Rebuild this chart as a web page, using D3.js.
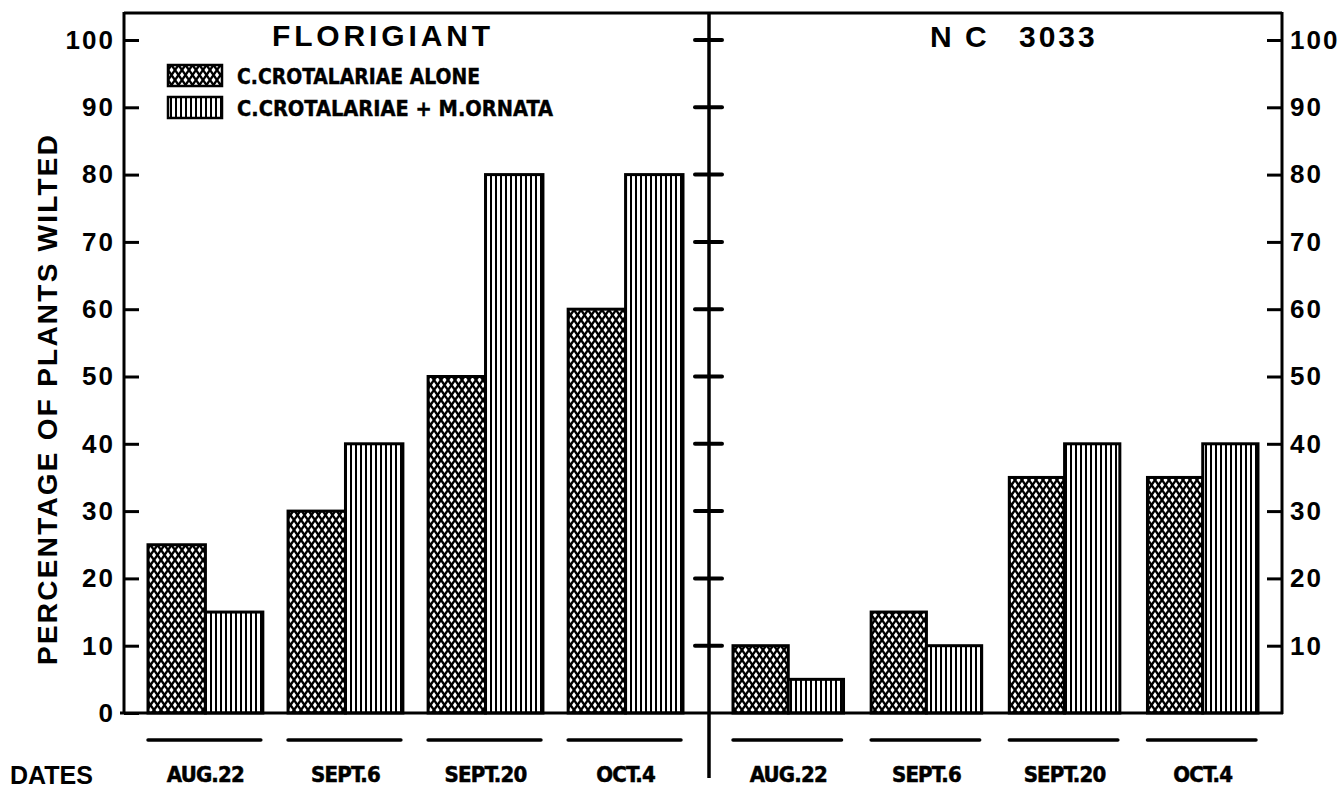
<!DOCTYPE html>
<html>
<head>
<meta charset="utf-8">
<script src="https://cdn.jsdelivr.net/npm/d3@7"></script>
<style>
  body { margin: 0; background: #fff; }
  svg { display: block; }
  .tick text { font-family: "Liberation Sans", Arial, sans-serif; font-weight: bold; font-size: 26px; letter-spacing: 2px; fill: #000; }
  .narrow { font-family: "Liberation Sans Narrow", "DejaVu Sans Condensed", sans-serif; font-weight: bold; }
  .title { font-family: "Liberation Sans", Arial, sans-serif; font-weight: bold; font-size: 30px; }
</style>
</head>
<body>
<svg id="chart"></svg>
<script>
// data
const dates = ["AUG.22", "SEPT.6", "SEPT.20", "OCT.4"];
const series = ["alone", "ornata"];
const seriesLabels = ["C.CROTALARIAE ALONE", "C.CROTALARIAE + M.ORNATA"];
const florigiantAlone = [25, 30, 50, 60];
const florigiantOrnata = [15, 40, 80, 80];
const nc3033Alone = [10, 15, 35, 35];
const nc3033Ornata = [5, 10, 40, 40];
const leftTicks = [0, 10, 20, 30, 40, 50, 60, 70, 80, 90, 100];
const rightTicks = [10, 20, 30, 40, 50, 60, 70, 80, 90, 100];

const width = 1339, height = 790;
const svg = d3.select("#chart").attr("width", width).attr("height", height);

const defs = svg.append("defs");
// criss-cross hatching
const xh = defs.append("pattern").attr("id", "xhatch")
  .attr("patternUnits", "userSpaceOnUse").attr("width", 7).attr("height", 10);
xh.append("rect").attr("width", 7).attr("height", 10).attr("fill", "#fff");
xh.append("path").attr("d", "M0,0L7,10M7,0L0,10").attr("stroke", "#000").attr("stroke-width", 2.4);
// vertical stripes
const vs = defs.append("pattern").attr("id", "vstripe")
  .attr("patternUnits", "userSpaceOnUse").attr("width", 5).attr("height", 10);
vs.append("rect").attr("width", 5).attr("height", 10).attr("fill", "#fff");
vs.append("rect").attr("x", 0).attr("width", 2).attr("height", 10).attr("fill", "#000");

const fills = { alone: "url(#xhatch)", ornata: "url(#vstripe)" };

const y = d3.scaleLinear().domain([0, 100]).range([713, 40]);

const xLeft = d3.scaleBand().domain(dates).range([148, 683]).paddingInner(0.18).paddingOuter(0);
const xRight = d3.scaleBand().domain(dates).range([733, 1258]).paddingInner(0.2).paddingOuter(0);

const leftAxisX = 124, midX = 709, rightAxisX = 1282, topY = 13;

function drawPanel(x, alone, ornata) {
  const sub = d3.scaleBand().domain(series).range([0, x.bandwidth()]);
  const rows = dates.map((d, i) => ({ date: d, alone: alone[i], ornata: ornata[i] }));
  const g = svg.append("g");
  rows.forEach(r => {
    series.forEach(s => {
      g.append("rect")
        .attr("x", x(r.date) + sub(s))
        .attr("y", y(r[s]))
        .attr("width", sub.bandwidth())
        .attr("height", y(0) - y(r[s]))
        .attr("fill", fills[s])
        .attr("stroke", "#000")
        .attr("stroke-width", 3);
    });
  });
  // underline under each group
  g.selectAll(".uline").data(dates).enter().append("line")
    .attr("x1", d => x(d)).attr("x2", d => x(d) + x.bandwidth() - 2)
    .attr("y1", 740).attr("y2", 740)
    .attr("stroke", "#000").attr("stroke-width", 3.5).attr("stroke-linecap", "round");
  g.selectAll(".dlabel").data(dates).enter().append("text")
    .attr("class", "narrow")
    .attr("x", d => x(d) + x.bandwidth() / 2)
    .attr("y", 782)
    .attr("text-anchor", "middle")
    .attr("font-size", 22)
    .attr("letter-spacing", -0.8)
    .attr("stroke", "#000").attr("stroke-width", 0.5)
    .text(d => d);
}

drawPanel(xLeft, florigiantAlone, florigiantOrnata);
drawPanel(xRight, nc3033Alone, nc3033Ornata);

// axes
const la = svg.append("g").attr("transform", `translate(${leftAxisX},0)`)
  .call(d3.axisLeft(y).tickValues(leftTicks).tickSize(-15).tickPadding(9).tickFormat(d3.format("d")));
la.select(".domain").remove();
la.selectAll(".tick line").attr("stroke", "#000").attr("stroke-width", 3);

const ra = svg.append("g").attr("transform", `translate(${rightAxisX},0)`)
  .call(d3.axisRight(y).tickValues(rightTicks).tickSize(-15).tickPadding(8).tickFormat(d3.format("d")));
ra.select(".domain").remove();
ra.selectAll(".tick line").attr("stroke", "#000").attr("stroke-width", 3);

// frame lines
const frame = svg.append("g").attr("stroke", "#000").attr("fill", "none");
frame.append("line").attr("x1", leftAxisX).attr("x2", rightAxisX).attr("y1", topY).attr("y2", topY).attr("stroke-width", 3);
frame.append("line").attr("x1", leftAxisX).attr("x2", leftAxisX).attr("y1", topY - 1).attr("y2", y(0)).attr("stroke-width", 3);
frame.append("line").attr("x1", rightAxisX).attr("x2", rightAxisX).attr("y1", topY - 1).attr("y2", y(0) + 1).attr("stroke-width", 3);
frame.append("line").attr("x1", leftAxisX - 4).attr("x2", rightAxisX + 1).attr("y1", y(0)).attr("y2", y(0)).attr("stroke-width", 3);
frame.append("line").attr("x1", midX).attr("x2", midX).attr("y1", topY).attr("y2", 778).attr("stroke-width", 3.5);
frame.selectAll(".midtick").data(rightTicks).enter().append("line")
  .attr("x1", midX - 14).attr("x2", midX + 13)
  .attr("y1", d => y(d)).attr("y2", d => y(d))
  .attr("stroke-width", 4).attr("stroke-linecap", "round");

// panel titles
svg.append("text").attr("class", "title").attr("x", 272).attr("y", 46)
  .attr("textLength", 218).attr("lengthAdjust", "spacing").text("FLORIGIANT");
const nc = svg.append("text").attr("class", "title").attr("y", 47);
nc.append("tspan").attr("x", 930).text("N");
nc.append("tspan").attr("x", 965).text("C");
nc.append("tspan").attr("x", 1019).attr("letter-spacing", 3).text("3033");

// legend
const legend = svg.append("g");
series.forEach((s, i) => {
  const ly = 65 + i * 32;
  legend.append("rect").attr("x", 168).attr("y", ly).attr("width", 54).attr("height", 21)
    .attr("fill", fills[s]).attr("stroke", "#000").attr("stroke-width", 2.5);
  legend.append("text").attr("class", "narrow")
    .attr("x", 237).attr("y", ly + 19).attr("font-size", 22)
    .attr("stroke", "#000").attr("stroke-width", 0.4)
    .attr("textLength", i === 0 ? 243 : 316).attr("lengthAdjust", "spacingAndGlyphs")
    .text(seriesLabels[i]);
});

// y axis title
svg.append("text")
  .attr("transform", "translate(57,400) rotate(-90)")
  .attr("text-anchor", "middle")
  .attr("font-family", "Liberation Sans, Arial, sans-serif").attr("font-size", 28).attr("font-weight", "bold")
  .attr("textLength", 530).attr("lengthAdjust", "spacing")
  .text("PERCENTAGE OF PLANTS WILTED");

svg.append("text").attr("x", 10).attr("y", 784)
  .attr("font-family", "Liberation Sans, Arial, sans-serif").attr("font-size", 25).attr("font-weight", "bold")
  .text("DATES");
</script>
</body>
</html>
